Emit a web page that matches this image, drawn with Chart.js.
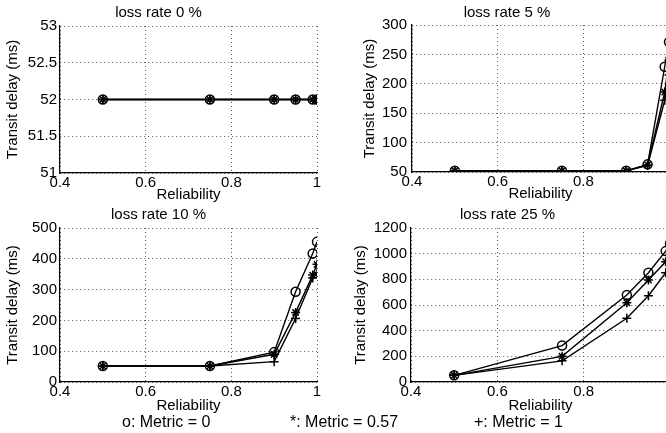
<!DOCTYPE html>
<html>
<head>
<meta charset="utf-8">
<script src="https://cdn.jsdelivr.net/npm/chart.js@4"></script>
<style>
  body { margin: 0; width: 666px; height: 433px; overflow: hidden; background: #fff; position: relative;
         font-family: "Liberation Sans", Arial, Helvetica, sans-serif; }
  canvas { position: absolute; }
  .key { position: absolute; top: 412px; font-size: 16px; line-height: 20px; color: #000; white-space: pre; }
</style>
</head>
<body>
<canvas id="c0" width="330" height="204" style="left:0;top:0"></canvas>
<canvas id="c1" width="345" height="203" style="left:345px;top:0"></canvas>
<canvas id="c2" width="330" height="213" style="left:0;top:202px"></canvas>
<canvas id="c3" width="345" height="213" style="left:345px;top:202px"></canvas>
<div class="key" style="left:122px">o: Metric = 0</div>
<div class="key" style="left:290px">*: Metric = 0.57</div>
<div class="key" style="left:474px">+: Metric = 1</div>
<script>
const reliability = [0.5, 0.75, 0.9, 0.95, 0.99, 1];
const xTicks = [0.4, 0.6, 0.8, 1];

// transit delay (ms), one array per loss rate and metric
const loss0_metric0   = [52, 52, 52, 52, 52, 52];
const loss0_metric057 = [52, 52, 52, 52, 52, 52];
const loss0_metric1   = [52, 52, 52, 52, 52, 52];

const loss5_metric0   = [52, 52, 52, 63, 229, 271];
const loss5_metric057 = [52, 52, 52, 62, 186, 240];
const loss5_metric1   = [52, 52, 52, 61, 172, 215];

const loss10_metric0   = [52, 52, 97, 293, 417, 455];
const loss10_metric057 = [52, 52, 90, 226, 347, 382];
const loss10_metric1   = [52, 52, 66, 206, 338, 353];

const loss25_metric0   = [52, 284, 678, 851, 1020, 1080];
const loss25_metric057 = [52, 200, 618, 795, 937, 1000];
const loss25_metric1   = [52, 165, 497, 672, 851, 920];

const titles = ['loss rate 0 %', 'loss rate 5 %', 'loss rate 10 %', 'loss rate 25 %'];
const yMin = [51, 50, 0, 0];
const yMax = [53, 300, 500, 1200];
const yStep = [0.5, 50, 100, 200];

const FONT = { family: '"Liberation Sans", Arial, Helvetica, sans-serif', size: 15, weight: 'normal' };
Chart.defaults.color = '#000';
Chart.defaults.font = FONT;

const markers = ['circle', 'star', 'cross'];

function makeChart(id, i, series, box) {
    const datasets = series.map((values, k) => ({
        data: values.map((v, j) => ({ x: reliability[j], y: v })),
        borderColor: '#000',
        borderWidth: 1.4,
        pointStyle: markers[k],
        pointRadius: 4.5,
        pointBorderWidth: 1.5,
        pointBorderColor: '#000',
        pointBackgroundColor: 'rgba(0,0,0,0)',
        tension: 0
    }));

    new Chart(document.getElementById(id), {
        type: 'line',
        data: { datasets },
        options: {
            responsive: false,
            animation: false,
            layout: { padding: { left: 0, right: box.right, top: 0, bottom: 0 } },
            plugins: {
                legend: { display: false },
                tooltip: { enabled: false },
                title: {
                    display: true,
                    text: titles[i],
                    color: '#000',
                    font: FONT,
                    padding: { top: 4, bottom: box.titleBottom }
                }
            },
            scales: {
                x: {
                    type: 'linear',
                    min: 0.4,
                    max: 1,
                    afterBuildTicks: s => { s.ticks = xTicks.map(v => ({ value: v })); },
                    ticks: { padding: 1, callback: v => String(+v.toFixed(1)), maxRotation: 0 },
                    grid: { color: '#555', lineWidth: 1, drawTicks: false },
                    border: { color: '#000', width: 1.2, dash: [1, 3] },
                    title: { display: true, text: 'Reliability', padding: { top: 0, bottom: 0 } },
                    afterFit: s => { s.height = box.xHeight; }
                },
                y: {
                    min: yMin[i],
                    max: yMax[i],
                    ticks: { stepSize: yStep[i], padding: box.tickPad, callback: v => String(+v.toFixed(1)) },
                    grid: { color: '#555', lineWidth: 1, drawTicks: false },
                    border: { color: '#000', width: 1.2, dash: [1, 3] },
                    title: { display: true, text: 'Transit delay (ms)', padding: { top: box.yTitle, bottom: 0 } },
                    afterFit: s => { s.width = box.yWidth; }
                }
            }
        }
    });
}

makeChart('c0', 0, [loss0_metric0, loss0_metric057, loss0_metric1],
    { right: 13, titleBottom: 4, xHeight: 31, yWidth: 60, tickPad: 3, yTitle: 4 });
makeChart('c1', 1, [loss5_metric0, loss5_metric057, loss5_metric1],
    { right: 21, titleBottom: 3, xHeight: 31, yWidth: 67, tickPad: 5, yTitle: 16 });
makeChart('c2', 2, [loss10_metric0, loss10_metric057, loss10_metric1],
    { right: 13, titleBottom: 4, xHeight: 33, yWidth: 60, tickPad: 3, yTitle: 4 });
makeChart('c3', 3, [loss25_metric0, loss25_metric057, loss25_metric1],
    { right: 20, titleBottom: 4, xHeight: 33, yWidth: 66, tickPad: 4, yTitle: 7 });
</script>
</body>
</html>
